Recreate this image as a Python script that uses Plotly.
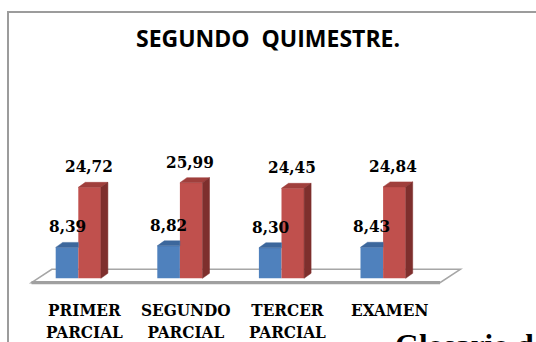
import plotly.graph_objects as go

# ---- data ----
categorias = ["PRIMER<br>PARCIAL", "SEGUNDO<br>PARCIAL", "TERCER<br>PARCIAL", "EXAMEN"]
serie_azul = [8.39, 8.82, 8.30, 8.43]
serie_roja = [24.72, 25.99, 24.45, 24.84]
etiquetas_azul = ["8,39", "8,82", "8,30", "8,43"]
etiquetas_roja = ["24,72", "25,99", "24,45", "24,84"]
titulo = "SEGUNDO\u00a0\u00a0QUIMESTRE."

# ---- geometry of the page (pixels) ----
W, H = 536, 342
CAT_PX = 101.6      # pixels per category
X0_PX = 78.3        # pixel of category 0
UNIT_PX = 3.68      # pixels per value unit
Y0_PX = 278.3       # pixel of value 0
X_RANGE = [-0.7, 4.0]
Y_RANGE = [-3, 50]

BW = 22.6 / CAT_PX          # width of one bar, in category units
DX = 7 / CAT_PX             # depth offset (x) of the 3D faces
DY = 5 / UNIT_PX            # depth offset (y) of the 3D faces

AZUL, AZUL_TOP = "#4F81BD", "#3C679C"
ROJO, ROJO_TOP, ROJO_SIDE = "#C0504D", "#A03F3C", "#7E2F2D"

SERIF = "DejaVu Serif Condensed, DejaVu Serif, serif"


def py(p):
    """page pixel (from top) -> paper y"""
    return (H - p) / H


def px(p):
    return p / W


x_dom = [px(X0_PX + X_RANGE[0] * CAT_PX), px(X0_PX + X_RANGE[1] * CAT_PX)]
y_dom = [py(Y0_PX - Y_RANGE[0] * UNIT_PX), py(Y0_PX - Y_RANGE[1] * UNIT_PX)]

idx = list(range(len(categorias)))

fig = go.Figure()

# front faces
fig.add_trace(go.Bar(x=idx, y=serie_azul, width=BW, offset=-BW,
                     marker=dict(color=AZUL, line=dict(width=0)), hoverinfo="skip"))
fig.add_trace(go.Bar(x=idx, y=serie_roja, width=BW, offset=0,
                     marker=dict(color=ROJO, line=dict(width=0)), hoverinfo="skip"))


def poly_trace(xs, ys, color):
    return go.Scatter(x=xs, y=ys, mode="lines", fill="toself", fillcolor=color,
                      line=dict(width=0.5, color=color), hoverinfo="skip")


# top face of the blue bars (the rear-right part is hidden by the red bar)
bx, by = [], []
for i, v in zip(idx, serie_azul):
    x0, x1 = i - BW, i
    bx += [x0, x1, x1, x0 + DX, x0, None]
    by += [v, v, v + DY, v + DY, v, None]
fig.add_trace(poly_trace(bx, by, AZUL_TOP))

# top and side faces of the red bars
tx, ty, sx, sy = [], [], [], []
for i, v in zip(idx, serie_roja):
    x0, x1 = i, i + BW
    tx += [x0, x1, x1 + DX, x0 + DX, x0, None]
    ty += [v, v, v + DY, v + DY, v, None]
    sx += [x1, x1 + DX, x1 + DX, x1, x1, None]
    sy += [0, DY, v + DY, v, 0, None]
fig.add_trace(poly_trace(tx, ty, ROJO_TOP))
fig.add_trace(poly_trace(sx, sy, ROJO_SIDE))

shapes = []
# floor plate
f_front = -(282.6 - Y0_PX) / UNIT_PX
f_back = (Y0_PX - 269.3) / UNIT_PX
fl, fr = (31.5 - X0_PX) / CAT_PX, (440 - X0_PX) / CAT_PX
shift = 20.3 / CAT_PX
shapes.append(dict(type="path", xref="x", yref="y", layer="below",
                   path=f"M{fl},{f_front} L{fr},{f_front} L{fr + shift},{f_back} "
                        f"L{fl + shift},{f_back} Z",
                   fillcolor="white", line=dict(color="#A6A6A6", width=1.6)))
shapes.append(dict(type="line", xref="x", yref="y", layer="below",
                   x0=fl, x1=fr, y0=f_front, y1=f_front,
                   line=dict(color="#A0A0A0", width=3.4)))
# chart frame
shapes.append(dict(type="rect", xref="paper", yref="paper",
                   x0=px(8), x1=1.1, y0=-0.1, y1=py(12),
                   line=dict(color="#9C9C9C", width=2), fillcolor="rgba(0,0,0,0)"))

annotations = []
for i, v, t in zip(idx, serie_azul, etiquetas_azul):
    annotations.append(dict(x=i - BW / 2, y=v, xref="x", yref="y", text=f"<b>{t}</b>",
                            showarrow=False, yanchor="middle", yshift=21,
                            font=dict(family=SERIF, size=17, color="black")))
for i, v, t in zip(idx, serie_roja, etiquetas_roja):
    annotations.append(dict(x=i + BW / 2 - 0.01, y=v, xref="x", yref="y", text=f"<b>{t}</b>",
                            showarrow=False, yanchor="middle", yshift=21,
                            font=dict(family=SERIF, size=17, color="black")))
for i, c in zip(idx, categorias):
    annotations.append(dict(x=i + 6 / CAT_PX, y=py(298), xref="x", yref="paper",
                            text=f"<b>{c}</b>", showarrow=False, yanchor="top",
                            font=dict(family=SERIF, size=17, color="black")))
annotations.append(dict(x=0.5, y=py(38.5), xref="paper", yref="paper",
                        text=f"<b>{titulo}</b>", showarrow=False, yanchor="middle",
                        font=dict(family="Open Sans", size=23, color="black")))
annotations.append(dict(x=px(393), y=py(326), xref="paper", yref="paper",
                        text="<b>Glosario de términos</b>", showarrow=False,
                        xanchor="left", yanchor="top",
                        font=dict(family="Liberation Serif", size=31, color="black")))

fig.update_layout(
    width=W, height=H,
    margin=dict(l=0, r=0, t=0, b=0),
    paper_bgcolor="white", plot_bgcolor="rgba(0,0,0,0)",
    showlegend=False, barmode="overlay",
    xaxis=dict(domain=x_dom, range=X_RANGE, visible=False, fixedrange=True),
    yaxis=dict(domain=y_dom, range=Y_RANGE, visible=False, fixedrange=True),
    shapes=shapes, annotations=annotations,
)

fig.write_html("out.html")
